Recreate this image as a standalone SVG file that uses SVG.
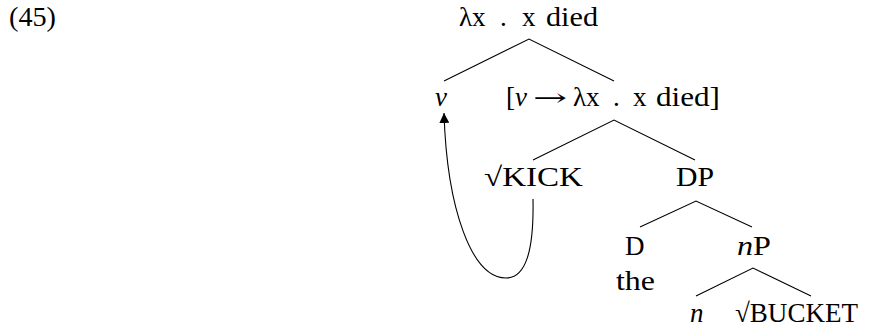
<svg xmlns="http://www.w3.org/2000/svg" width="887" height="328" viewBox="0 0 887 328">
<defs>
<style>
text{font-family:"Liberation Serif","DejaVu Serif",serif;font-size:27px;fill:#000}
.i{font-style:italic}
.ar{font-family:"DejaVu Serif",serif;font-size:24px}
.edge{stroke:#000;stroke-width:1.1;fill:none}
</style>
<marker id="ah" viewBox="0 0 10 10" refX="10" refY="5" markerWidth="10" markerHeight="10" markerUnits="userSpaceOnUse" orient="auto">
<path d="M0,0 L10,5 L0,10 z" fill="#000"/>
</marker>
</defs>
<rect width="887" height="328" fill="#fff"/>
<text x="9" y="26" textLength="47" lengthAdjust="spacingAndGlyphs">(45)</text>
<g id="connectors">
<path class="edge" d="M444,81 L529,39 L614,81"/>
<path class="edge" d="M533,160 L614,120 L695,160"/>
<path class="edge" d="M640,227 L696,201 L752,227"/>
<path class="edge" d="M696,296 L753,268 L811,296"/>
<path class="edge" d="M533,199 C534,250 526,278 506,278 C472,278 447,210 444,113" marker-end="url(#ah)"/>
</g>
<g id="root"><text y="26"><tspan x="459">λx</tspan><tspan x="500">.</tspan><tspan x="522">x</tspan></text><text x="546" y="26" textLength="52" lengthAdjust="spacingAndGlyphs">died</text></g>
<g id="v"><text x="435" y="106" class="i">v</text></g>
<g id="vbar"><text y="106"><tspan x="506">[</tspan><tspan x="515" class="i">v</tspan><tspan x="573">λx</tspan><tspan x="613">.</tspan><tspan x="633">x</tspan></text><text class="ar" x="533" y="106" textLength="34" lengthAdjust="spacingAndGlyphs">→</text><text x="656" y="106" textLength="64" lengthAdjust="spacingAndGlyphs">died]</text></g>
<g id="kick"><text x="484" y="186" textLength="99" lengthAdjust="spacingAndGlyphs">√KICK</text></g>
<g id="dp"><text x="676" y="186" textLength="38" lengthAdjust="spacingAndGlyphs">DP</text></g>
<g id="d"><text x="625" y="255">D</text><text x="616" y="290" textLength="39" lengthAdjust="spacingAndGlyphs">the</text></g>
<g id="np"><text x="737" y="255" textLength="34" lengthAdjust="spacingAndGlyphs"><tspan class="i">n</tspan>P</text></g>
<g id="n"><text x="690" y="322" class="i">n</text></g>
<g id="bucket"><text x="735" y="322" textLength="123" lengthAdjust="spacingAndGlyphs">√BUCKET</text></g>
</svg>
